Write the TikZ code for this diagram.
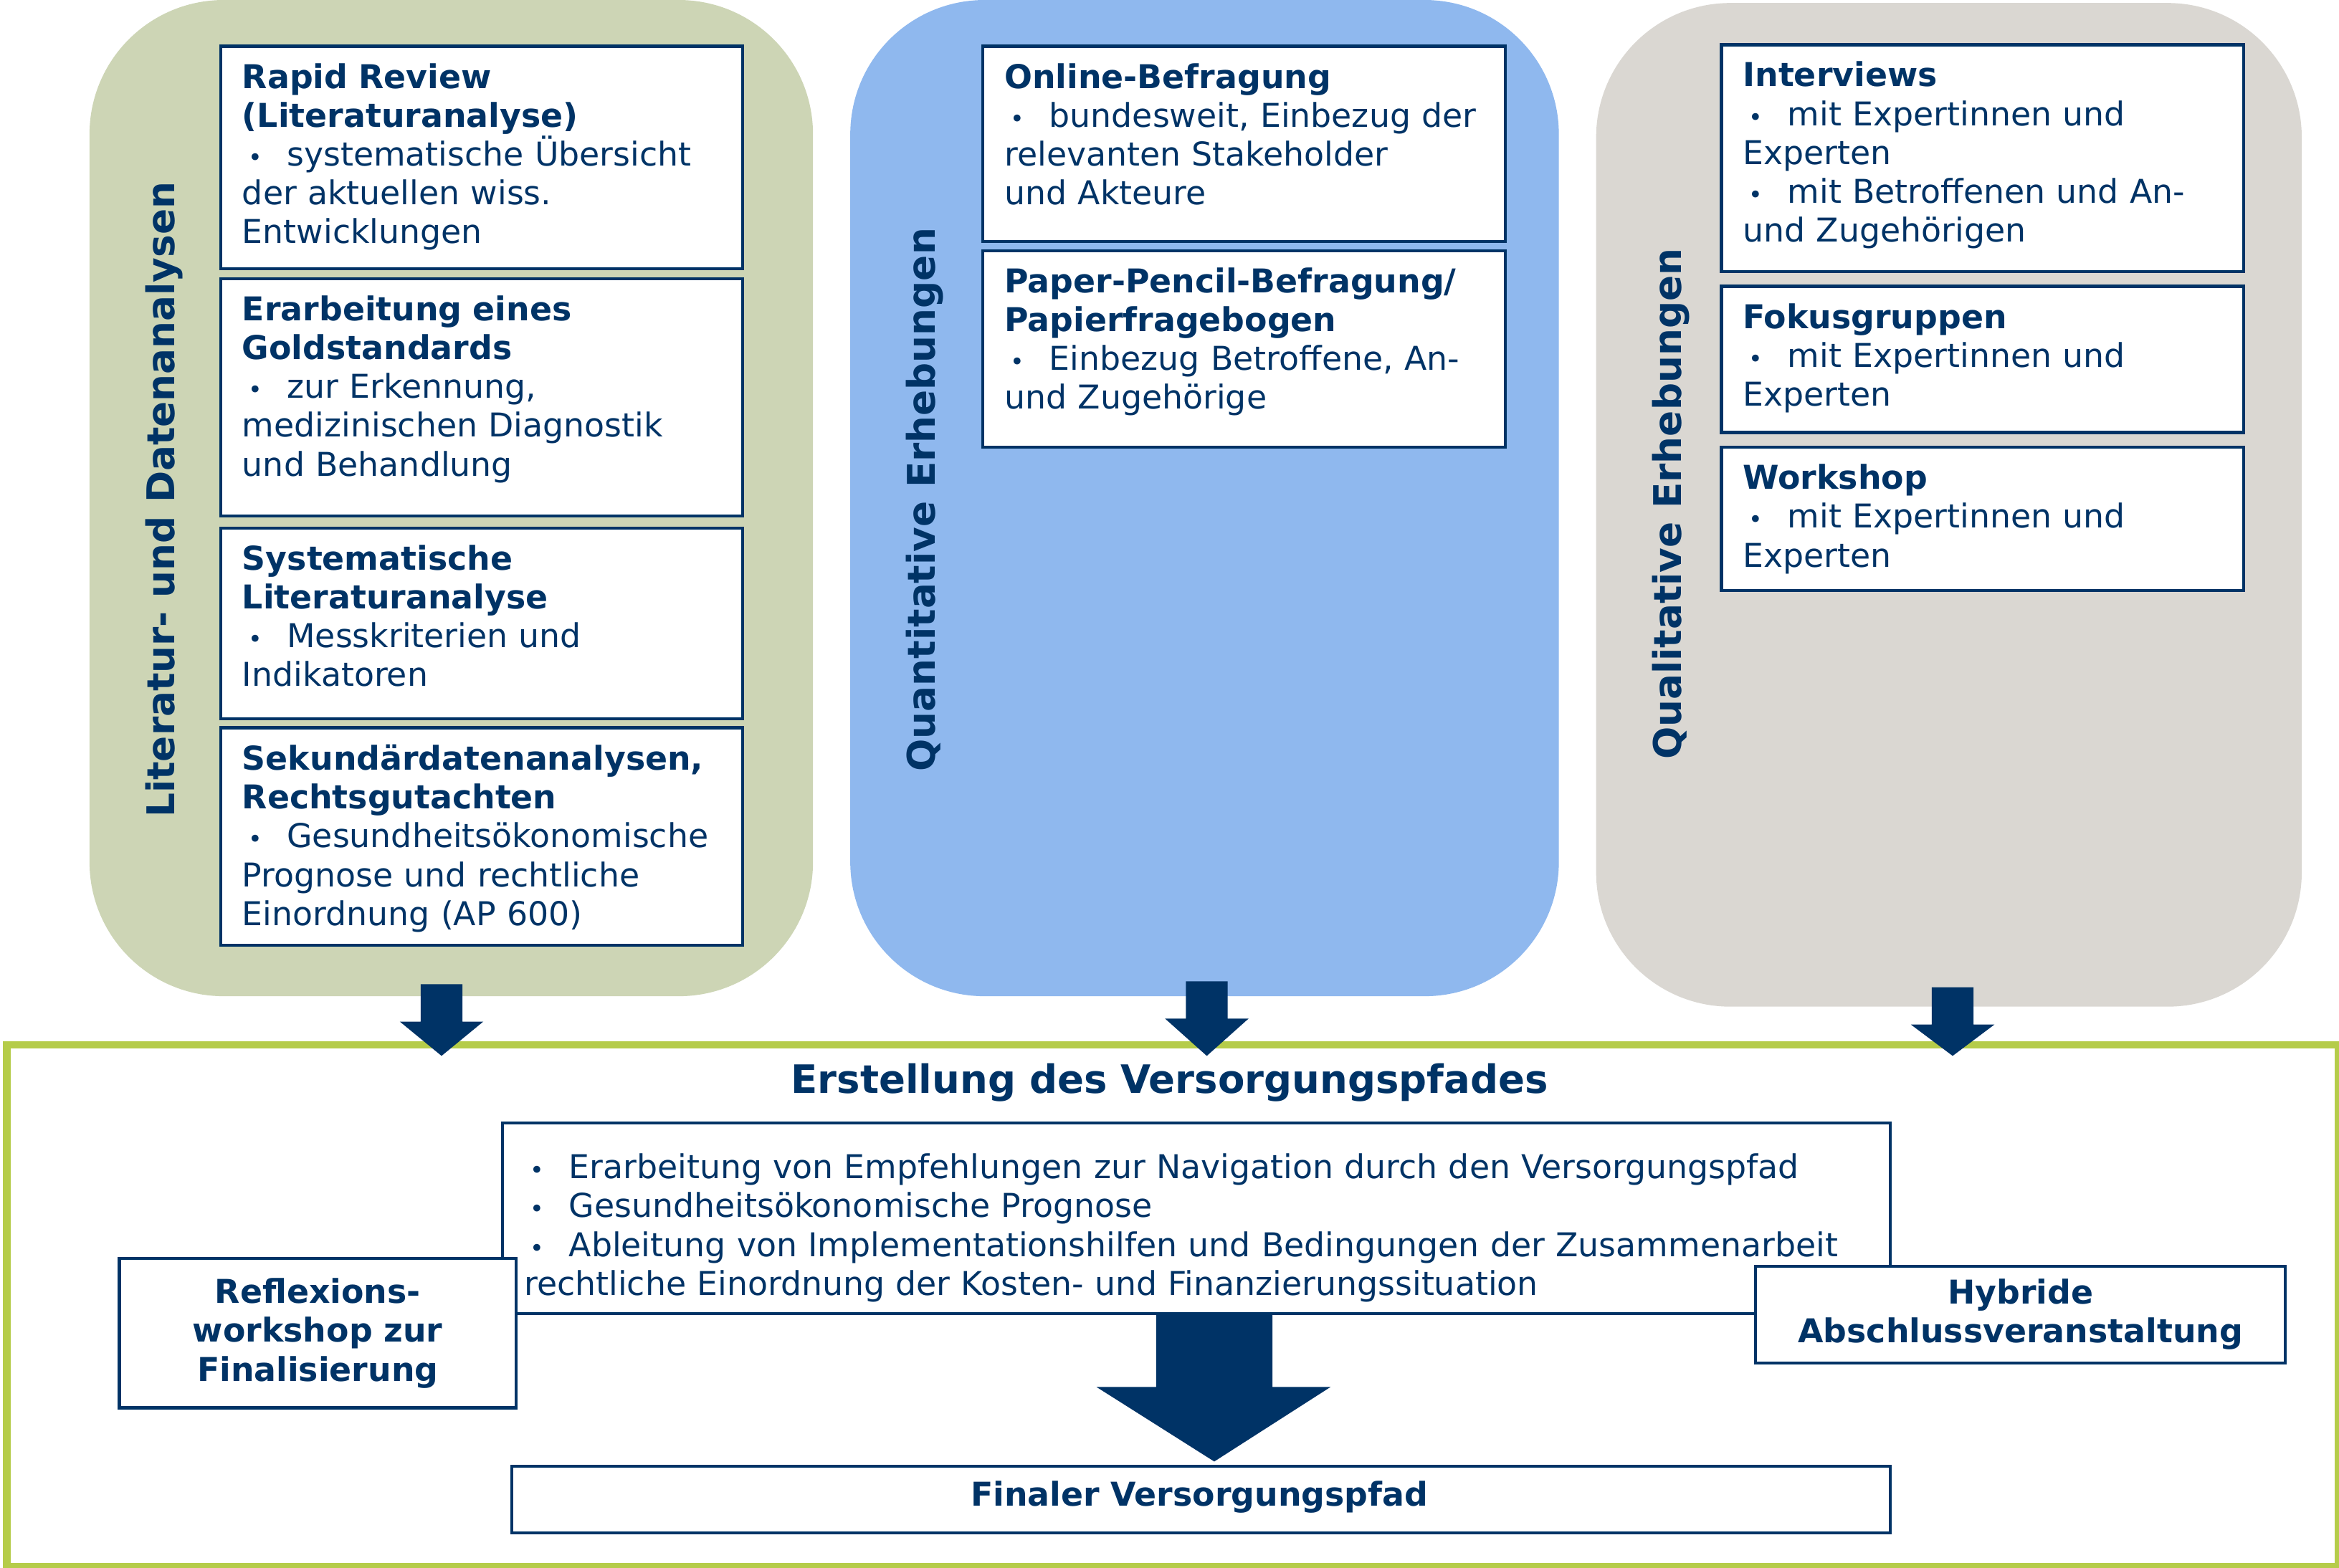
\documentclass[tikz,border=0pt]{standalone}
\usepackage{fontspec}
\setmainfont{DejaVu Sans}
\definecolor{db}{HTML}{003366}
\definecolor{pg}{HTML}{CDD5B5}
\definecolor{pb}{HTML}{8FB8EE}
\definecolor{pr}{HTML}{DAD7D2}
\definecolor{fg}{HTML}{B5CC4A}
\newcommand{\bitem}[1]{\par\hangindent=15pt\hangafter=0\noindent\llap{\makebox[15pt][l]{\hspace{2pt}{\footnotesize\textbullet}}}#1}
\newcommand{\bx}[6]{\node[box,minimum width={(#4-#2)*0.5pt},minimum height={(#5-#3)*0.5pt}] (#1) at (#2,#3) {};
 \node[txt,text width={(#4-#2-10)*0.5pt}] (#1t) at (#2+15,#3+12) {#6};}
\tikzset{box/.style={draw=db,line width=1pt,fill=white,anchor=north west,inner sep=0pt},
 txt/.style={anchor=north west,inner sep=0pt,align=left,text=db,font=\fontsize{11}{13}\selectfont},
 vlab/.style={rotate=90,text=db,font=\fontsize{12.8}{15}\selectfont\bfseries},
 arr/.style={fill=db}}
\begin{document}
\begin{tikzpicture}[x=0.5pt,y=-0.5pt]
\useasboundingbox (0,0) rectangle (1568,1051);
\fill[pg,rounded corners=45pt] (60,0) rectangle (545,668);
\fill[pb,rounded corners=45pt] (570,0) rectangle (1045,668);
\fill[pr,rounded corners=45pt] (1070,2) rectangle (1543,675);
\node[vlab] (l1) at (110,335) {Literatur- und Datenanalysen};
\node[vlab] (l2) at (620,335) {Quantitative Erhebungen};
\node[vlab] (l3) at (1120,338) {Qualitative Erhebungen};
\bx{a1}{147}{30}{497}{179}{\textbf{Rapid Review}\\\textbf{(Literaturanalyse)}\bitem{systematische Übersicht\\der aktuellen wiss.\\Entwicklungen}}
\bx{a2}{147}{186}{497}{345}{\textbf{Erarbeitung eines}\\\textbf{Goldstandards}\bitem{zur Erkennung,\\medizinischen Diagnostik\\und Behandlung}}
\bx{a3}{147}{353}{497}{481}{\textbf{Systematische}\\\textbf{Literaturanalyse}\bitem{Messkriterien und\\Indikatoren}}
\bx{a4}{147}{487}{497}{633}{\textbf{Sekundärdatenanalysen,}\\\textbf{Rechtsgutachten}\bitem{Gesundheitsökonomische\\Prognose und rechtliche\\Einordnung (AP 600)}}
\bx{b1}{658}{30}{1008}{161}{\textbf{Online-Befragung}\bitem{bundesweit, Einbezug der\\relevanten Stakeholder\\und Akteure}}
\bx{b2}{658}{167}{1008}{299}{\textbf{Paper-Pencil-Befragung/}\\\textbf{Papierfragebogen}\bitem{Einbezug Betroffene, An-\\und Zugehörige}}
\bx{c1}{1153}{29}{1503}{181}{\textbf{Interviews}\bitem{mit Expertinnen und\\Experten}\bitem{mit Betroffenen und An-\\und Zugehörigen}}
\bx{c2}{1153}{191}{1503}{289}{\textbf{Fokusgruppen}\bitem{mit Expertinnen und\\Experten}}
\bx{c3}{1153}{299}{1503}{395}{\textbf{Workshop}\bitem{mit Expertinnen und\\Experten}}
\node[draw=fg,line width=2.5pt,anchor=north west,minimum width=781.5pt,minimum height=175pt,inner sep=0pt] (frame) at (2,698) {};
\foreach \x/\t/\n in {296/660/p1,809/658/p2,1309/662/p3}{
 \fill[arr] (\x-14,\t) -- (\x+14,\t) -- (\x+14,\t+25) -- (\x+28,\t+25) -- (\x,708) -- (\x-28,\t+25) -- (\x-14,\t+25) -- cycle;}
\node[text=db,font=\fontsize{13.1}{15}\selectfont\bfseries] (title) at (784,726) {Erstellung des Versorgungspfades};
\bx{m}{336}{752}{1266}{880}{\bitem{Erarbeitung von Empfehlungen zur Navigation durch den Versorgungspfad}\bitem{Gesundheitsökonomische Prognose}\bitem{Ableitung von Implementationshilfen und Bedingungen der Zusammenarbeit}\bitem{rechtliche Einordnung der Kosten- und Finanzierungssituation}}
\node[box,minimum width=133pt,minimum height=50pt,align=center,text=db,font=\fontsize{11}{13}\selectfont\bfseries] (lw) at (79,843) {Reflexions-\\workshop zur\\Finalisierung};
\node[box,minimum width=177.5pt,minimum height=32.5pt,align=center,text=db,font=\fontsize{11}{13}\selectfont\bfseries] (rw) at (1176,848) {Hybride\\Abschlussveranstaltung};
\fill[arr] (775,880) -- (853,880) -- (853,930) -- (892,930) -- (814,980) -- (735,930) -- (775,930) -- cycle;
\node[box,minimum width=462pt,minimum height=22.5pt] (fin) at (342,982) {};
\node[text=db,font=\fontsize{11}{13}\selectfont\bfseries] (fint) at (804,1004) {Finaler Versorgungspfad};
\end{tikzpicture}
\end{document}
